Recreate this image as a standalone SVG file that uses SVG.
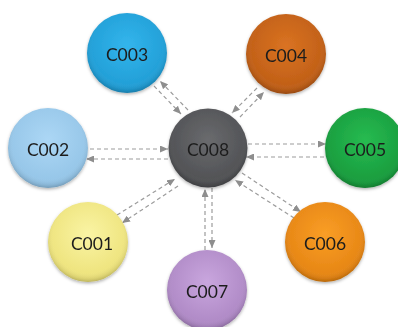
<svg xmlns="http://www.w3.org/2000/svg" width="398" height="327" viewBox="0 0 398 327">
  <defs>
    <style>
      .lbl { font-family: Lato, "Liberation Sans", sans-serif; font-size: 17.5px; fill: #1e1e1e; text-anchor: middle; dominant-baseline: central; }
      .link { fill: none; stroke: #9c9c9c; stroke-width: 1.2; stroke-dasharray: 4 3; marker-end: url(#arrow); }
      .ball { filter: url(#shadow); }
      .rim { fill: url(#rim); }
    </style>
    <marker id="arrow" viewBox="0 0 8 7" refX="8" refY="3.5" markerWidth="8" markerHeight="7" markerUnits="userSpaceOnUse" orient="auto">
      <path d="M0,0 L8,3.5 L0,7 z" fill="#8e8e8e"/>
    </marker>
    <filter id="shadow" x="-20%" y="-20%" width="140%" height="145%">
      <feDropShadow dx="0" dy="1.5" stdDeviation="1.6" flood-color="#000" flood-opacity="0.3"/>
    </filter>
    <radialGradient id="rim" cx="50%" cy="45%" r="55%">
      <stop offset="0.78" stop-color="#fff" stop-opacity="0"/>
      <stop offset="0.93" stop-color="#000" stop-opacity="0.08"/>
      <stop offset="1" stop-color="#000" stop-opacity="0.2"/>
    </radialGradient>
    <radialGradient id="g1" cx="50%" cy="40%" r="60%"><stop offset="0" stop-color="#faf4a4"/><stop offset="1" stop-color="#ece177"/></radialGradient>
    <radialGradient id="g2" cx="50%" cy="40%" r="60%"><stop offset="0" stop-color="#acd7f5"/><stop offset="1" stop-color="#92c3e6"/></radialGradient>
    <radialGradient id="g3" cx="50%" cy="40%" r="60%"><stop offset="0" stop-color="#33b5ec"/><stop offset="1" stop-color="#1f9bd3"/></radialGradient>
    <radialGradient id="g4" cx="50%" cy="40%" r="60%"><stop offset="0" stop-color="#da7322"/><stop offset="1" stop-color="#bc5c15"/></radialGradient>
    <radialGradient id="g5" cx="50%" cy="40%" r="60%"><stop offset="0" stop-color="#27bb51"/><stop offset="1" stop-color="#17983b"/></radialGradient>
    <radialGradient id="g6" cx="50%" cy="40%" r="60%"><stop offset="0" stop-color="#fa9e26"/><stop offset="1" stop-color="#e38212"/></radialGradient>
    <radialGradient id="g7" cx="50%" cy="40%" r="60%"><stop offset="0" stop-color="#c9a6de"/><stop offset="1" stop-color="#ab85c2"/></radialGradient>
    <radialGradient id="g8" cx="50%" cy="40%" r="60%"><stop offset="0" stop-color="#6a6b6e"/><stop offset="1" stop-color="#4d4e51"/></radialGradient>
  </defs>

  <rect width="398" height="327" fill="#ffffff"/>

  <!-- paired dashed links between the hub and each outer node -->
  <g id="connectors">
    <!-- C002 -->
    <line class="link" x1="90" y1="149" x2="168" y2="149"/>
    <line class="link" x1="168" y1="159" x2="86" y2="159"/>
    <!-- C005 -->
    <line class="link" x1="248" y1="144" x2="326" y2="144"/>
    <line class="link" x1="324" y1="157" x2="246" y2="157"/>
    <!-- C007 -->
    <line class="link" x1="205" y1="250" x2="205" y2="189"/>
    <line class="link" x1="212" y1="188" x2="212" y2="248"/>
    <!-- C003 -->
    <line class="link" x1="154" y1="86" x2="181" y2="114"/>
    <line class="link" x1="188" y1="110" x2="160" y2="81"/>
    <!-- C004 -->
    <line class="link" x1="240" y1="117" x2="264" y2="92"/>
    <line class="link" x1="257" y1="88" x2="232" y2="113"/>
    <!-- C001 -->
    <line class="link" x1="178" y1="186" x2="122" y2="223"/>
    <line class="link" x1="117" y1="215" x2="175" y2="179"/>
    <!-- C006 -->
    <line class="link" x1="242" y1="173" x2="301" y2="212"/>
    <line class="link" x1="294" y1="218" x2="235" y2="180"/>
  </g>

  <g id="C008" class="ball"><circle cx="208" cy="148" r="39.5" fill="url(#g8)"/><circle class="rim" cx="208" cy="148" r="39.5"/><text class="lbl" x="208" y="149">C008</text></g>
  <g id="C003" class="ball"><circle cx="127" cy="53" r="40" fill="url(#g3)"/><circle class="rim" cx="127" cy="53" r="40"/><text class="lbl" x="127" y="54">C003</text></g>
  <g id="C004" class="ball"><circle cx="286" cy="54" r="40" fill="url(#g4)"/><circle class="rim" cx="286" cy="54" r="40"/><text class="lbl" x="286" y="55">C004</text></g>
  <g id="C002" class="ball"><circle cx="48" cy="148" r="40" fill="url(#g2)"/><circle class="rim" cx="48" cy="148" r="40"/><text class="lbl" x="48" y="149">C002</text></g>
  <g id="C005" class="ball"><circle cx="365" cy="148" r="40" fill="url(#g5)"/><circle class="rim" cx="365" cy="148" r="40"/><text class="lbl" x="365" y="149">C005</text></g>
  <g id="C001" class="ball"><circle cx="88" cy="242" r="40" fill="url(#g1)"/><circle class="rim" cx="88" cy="242" r="40"/><text class="lbl" x="92" y="243">C001</text></g>
  <g id="C006" class="ball"><circle cx="325" cy="242" r="40" fill="url(#g6)"/><circle class="rim" cx="325" cy="242" r="40"/><text class="lbl" x="325" y="243">C006</text></g>
  <g id="C007" class="ball"><circle cx="207" cy="290" r="40" fill="url(#g7)"/><circle class="rim" cx="207" cy="290" r="40"/><text class="lbl" x="207" y="291">C007</text></g>
</svg>
